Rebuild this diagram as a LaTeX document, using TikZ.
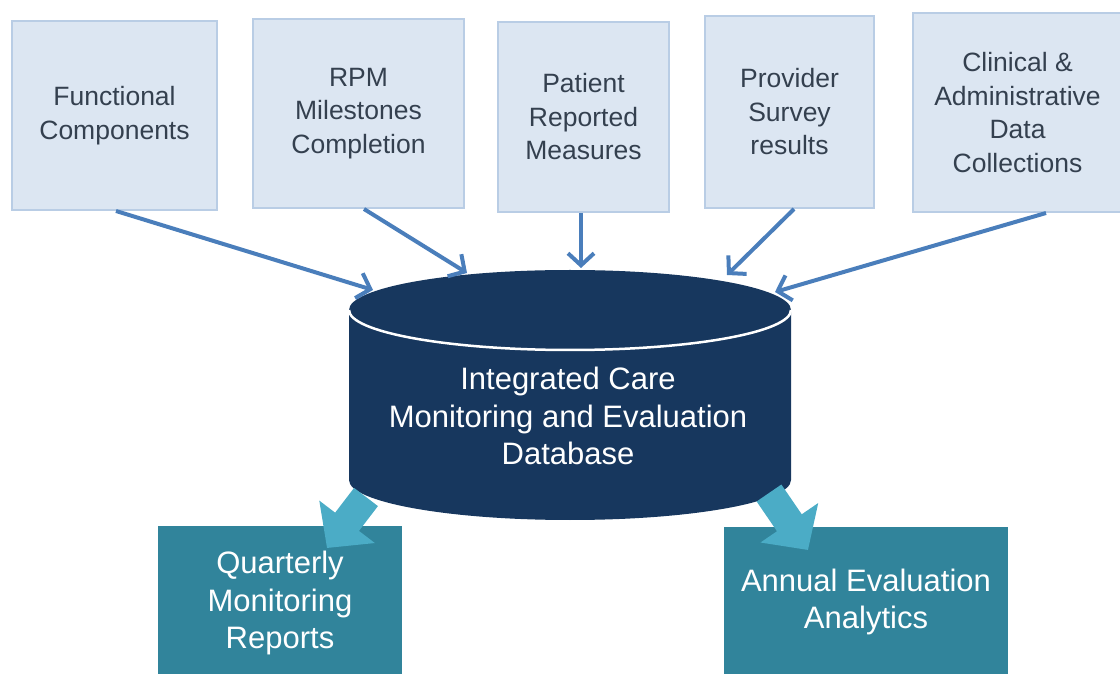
\documentclass[tikz,border=0pt]{standalone}
\usepackage{fontspec}
\setmainfont{Liberation Sans}
\usetikzlibrary{arrows.meta,calc}
\definecolor{srcfill}{HTML}{DCE6F2}
\definecolor{srcline}{HTML}{B9CDE5}
\definecolor{srctext}{HTML}{34404F}
\definecolor{feedblue}{HTML}{4A7EBB}
\definecolor{dbnavy}{HTML}{17375E}
\definecolor{outteal}{HTML}{31849B}
\definecolor{flowteal}{HTML}{4BACC6}
\begin{document}
\begin{tikzpicture}[x=1pt,y=1pt,
  srcbox/.style={draw=srcline, line width=2pt, fill=srcfill, text=srctext,
    align=center, inner sep=0pt,
    font=\fontsize{26.5}{33.5}\selectfont},
  feed/.style={draw=feedblue, line width=4pt,
    -{Straight Barb[length=12pt,width=26pt,line width=4pt]}},
  outbox/.style={fill=outteal, draw=none, inner sep=0pt},
  outtext/.style={text=white, align=center, font=\fontsize{31}{37.5}\selectfont},
  flow/.style={draw=flowteal, line width=30pt,
    -{Triangle[length=33pt,width=68pt]}}]
\useasboundingbox (0,0) rectangle (1120,673);
\clip (0,0) rectangle (1120,673);

% data sources along the top
\node[srcbox, minimum width=205pt, minimum height=189pt] (fc) at (114.5,557.5) {Functional\\Components};
\node[srcbox, minimum width=211pt, minimum height=189pt] (rpm) at (358.5,559.5) {RPM\\Milestones\\Completion};
\node[srcbox, minimum width=171pt, minimum height=190pt] (prm) at (583.5,556) {Patient\\Reported\\Measures};
\node[srcbox, minimum width=169pt, minimum height=192pt] (psr) at (789.5,561) {Provider\\Survey\\results};
\node[srcbox, minimum width=209pt, minimum height=199pt] (cad) at (1017.5,560.5) {Clinical \&\\Administrative\\Data\\Collections};

% database cylinder
\fill[dbnavy] (349,363) -- (349,193)
  arc[start angle=180, end angle=360, x radius=221, y radius=40]
  -- (791,363)
  arc[start angle=0, end angle=180, x radius=221, y radius=40] -- cycle;
\draw[white, line width=2.5pt] (349,363)
  arc[start angle=180, end angle=360, x radius=221, y radius=40];
\node[outtext] (db) at (568,257) {Integrated Care\\Monitoring and Evaluation\\Database};

% entry points on the cylinder lid
\coordinate (in1) at (373,383);
\coordinate (in2) at (467,400);
\coordinate (in3) at (581,405);
\coordinate (in4) at (727,398);
\coordinate (in5) at (775,381);

\draw[feed] ($(fc.south)+(1.5,0)$) -- (in1);
\draw[feed] ($(rpm.south)+(5.5,0)$) -- (in2);
\draw[feed] ($(prm.south)+(-2.5,0)$) -- (in3);
\draw[feed] ($(psr.south)+(4.5,0)$) -- (in4);
\draw[feed] ($(cad.south)+(28.5,0)$) -- (in5);

% outputs along the bottom
\node[outbox, minimum width=244pt, minimum height=160pt] (qmr) at (280,67) {};
\node[outtext] (qmrt) at (280,70) {Quarterly\\Monitoring\\Reports};
\node[outbox, minimum width=284pt, minimum height=160pt] (aea) at (866,66) {};
\node[outtext] (aeat) at (866,71) {Annual Evaluation\\Analytics};

\coordinate (out1) at (366,176);
\coordinate (out2) at (769,180);
\draw[flow] (out1) -- (327,125);
\draw[flow] (out2) -- (808,123);
\end{tikzpicture}
\end{document}
